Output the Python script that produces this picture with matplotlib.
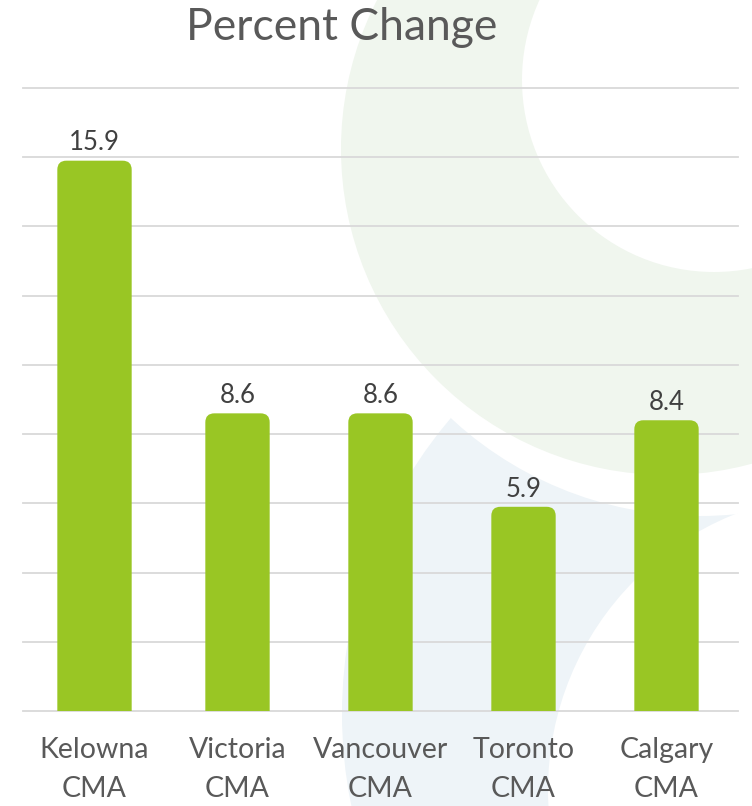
import matplotlib
matplotlib.use("Agg")
import matplotlib.pyplot as plt
from matplotlib.patches import Circle, FancyBboxPatch

plt.rcParams['font.family'] = ['Lato', 'DejaVu Sans']

# data
cities = ["Kelowna\nCMA", "Victoria\nCMA", "Vancouver\nCMA", "Toronto\nCMA", "Calgary\nCMA"]
pct_change = [15.9, 8.6, 8.6, 5.9, 8.4]
bar_widths = [0.52, 0.45, 0.45, 0.45, 0.45]

BAR = "#99C624"
GRID = "#D9D9D9"
TXT = "#595959"

W, H = 752, 806
fig = plt.figure(figsize=(W / 100, H / 100), dpi=100)
fig.patch.set_facecolor("white")

# faint watermark arcs behind the chart (pixel coords)
bg = fig.add_axes([0, 0, 1, 1], zorder=0)
bg.set_xlim(0, W)
bg.set_ylim(H, 0)
bg.axis("off")
bg.add_patch(Circle((799, 714), 457, color="#EEF4F8", lw=0))
bg.add_patch(Circle((700, 150), 366, color="white", lw=0))
bg.add_patch(Circle((845, 790), 297, color="white", lw=0))
bg.add_patch(Circle((667, 149), 326, color="#F0F6EE", lw=0))
bg.add_patch(Circle((714, 80), 192, color="white", lw=0))

ax = fig.add_axes([23 / W, 1 - 711 / H, (738 - 23) / W, (711 - 88) / H], zorder=1)
ax.set_facecolor("none")
ax.set_xlim(-0.5, len(cities) - 0.5)
ax.set_ylim(0, 18)

for y in range(0, 19, 2):
    ax.axhline(y, color=GRID, lw=1.3, zorder=1, clip_on=False)

# bars with rounded top corners
x_px = (738 - 23) / len(cities)
y_px = (711 - 88) / 18
r = 9 / x_px
for i, (v, w) in enumerate(zip(pct_change, bar_widths)):
    box = FancyBboxPatch((i - w / 2, -2), w, v + 2,
                         boxstyle="round,pad=0,rounding_size=%f" % r,
                         mutation_aspect=x_px / y_px,
                         fc=BAR, ec="none", zorder=2)
    ax.add_patch(box)
    ax.text(i, v + 0.15, "%.1f" % v, ha="center", va="bottom",
            fontsize=18.5, color="#404040", zorder=3)

ax.set_xticks(range(len(cities)))
ax.set_xticklabels(cities, fontsize=20.5, color=TXT, linespacing=1.6)
ax.tick_params(axis="x", length=0, pad=19)
ax.set_yticks([])
for s in ax.spines.values():
    s.set_visible(False)

fig.text(342 / W, 1 - 27 / H, "Percent Change", ha="center", va="center",
         fontsize=32, color=TXT)

fig.savefig("out.png", dpi=100)
